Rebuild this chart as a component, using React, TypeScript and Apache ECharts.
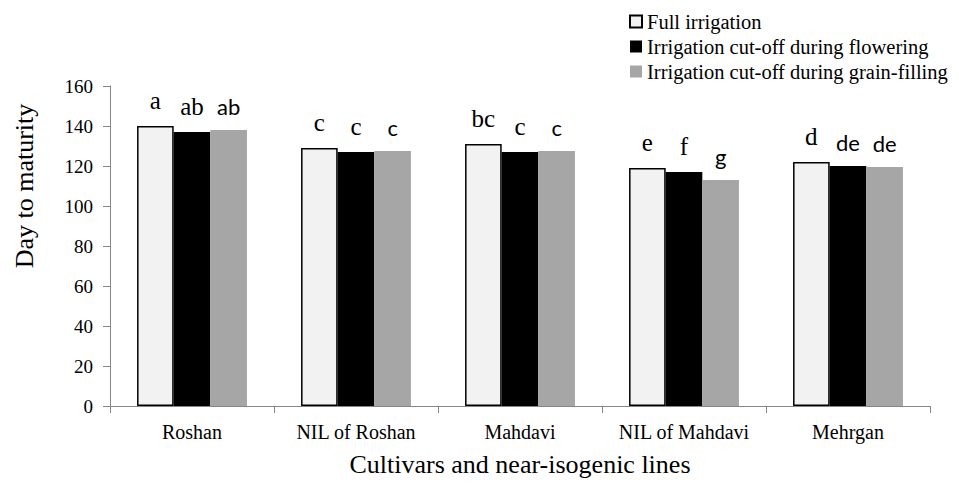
import React, { useEffect, useRef } from "react";
import * as echarts from "echarts";

const categories = ["Roshan", "NIL of Roshan", "Mahdavi", "NIL of Mahdavi", "Mehrgan"];
const seriesNames = [
  "Full irrigation",
  "Irrigation cut-off during flowering",
  "Irrigation cut-off during grain-filling",
];
const fullIrrigation = [140, 129, 131, 119, 122];
const cutoffFlowering = [137, 127, 127, 117, 120];
const cutoffGrainFilling = [138, 127.5, 127.5, 113, 119.5];

const fullLetters = ["a", "c", "bc", "e", "d"];
const floweringLetters = ["ab", "c", "c", "f", "de"];
const grainLetters = ["ab", "c", "c", "g", "de"];
// which letters are set in a sans face (true) vs serif (false)
const fullLetterSans = [false, false, false, false, false];
const floweringLetterSans = [false, false, false, false, true];
const grainLetterSans = [true, true, true, true, true];

const yTicks = { min: 0, max: 160, interval: 20 };

const SERIF = "Liberation Serif";
const SANS = "Lato";

function buildData(values: number[], letters: string[], sans: boolean[]) {
  return values.map((v, i) => ({
    value: v,
    label: {
      formatter: letters[i],
      fontFamily: sans[i] ? SANS : SERIF,
      fontSize: sans[i] ? 22 : 25,
    },
  }));
}

export default function App() {
  const ref = useRef<HTMLDivElement>(null);
  useEffect(() => {
    document.body.style.margin = "0";
    if (!ref.current) return;
    const chart = echarts.init(ref.current, null, { renderer: "svg" });
    const labelBase = {
      show: true,
      position: "top",
      distance: 13,
      color: "#000",
    };
    chart.setOption({
      animation: false,
      backgroundColor: "#fff",
      textStyle: { fontFamily: SERIF },
      grid: { left: 110, right: 29, top: 86, bottom: 80, containLabel: false },
      legend: {
        orient: "vertical",
        left: 629,
        top: 11,
        padding: 0,
        itemWidth: 12,
        itemHeight: 12,
        itemGap: 4,
        icon: "rect",
        textStyle: { fontFamily: SERIF, fontSize: 20.5, color: "#000", lineHeight: 20 },
        data: seriesNames,
      },
      xAxis: {
        type: "category",
        data: categories,
        name: "Cultivars and near-isogenic lines",
        nameLocation: "middle",
        nameGap: 45,
        nameTextStyle: { fontFamily: SERIF, fontSize: 26, color: "#000" },
        axisLine: { show: true, lineStyle: { color: "#868686", width: 1 } },
        axisTick: { show: true, alignWithLabel: false, length: 7, lineStyle: { color: "#868686" } },
        axisLabel: { fontFamily: SERIF, fontSize: 20, color: "#000", margin: 16, interval: 0 },
        splitLine: { show: false },
      },
      yAxis: {
        type: "value",
        min: yTicks.min,
        max: yTicks.max,
        interval: yTicks.interval,
        axisLine: { show: true, lineStyle: { color: "#868686", width: 1 } },
        axisTick: { show: true, length: 7, lineStyle: { color: "#868686" } },
        axisLabel: { fontFamily: SERIF, fontSize: 19, color: "#000", margin: 17 },
        splitLine: { show: false },
      },
      graphic: [
        {
          type: "text",
          x: 24,
          y: 186,
          rotation: Math.PI / 2,
          style: {
            text: "Day to maturity",
            fontFamily: SERIF,
            fontSize: 26,
            fill: "#000",
            align: "center",
            verticalAlign: "middle",
          },
        },
      ],
      series: [
        {
          name: seriesNames[0],
          type: "bar",
          barGap: "0%",
          barCategoryGap: "33%",
          itemStyle: { color: "#f2f2f2", borderColor: "#000", borderWidth: 1.5 },
          label: labelBase,
          data: buildData(fullIrrigation, fullLetters, fullLetterSans),
        },
        {
          name: seriesNames[1],
          type: "bar",
          barGap: "0%",
          barCategoryGap: "33%",
          itemStyle: { color: "#000" },
          label: labelBase,
          data: buildData(cutoffFlowering, floweringLetters, floweringLetterSans),
        },
        {
          name: seriesNames[2],
          type: "bar",
          barGap: "0%",
          barCategoryGap: "33%",
          itemStyle: { color: "#a6a6a6" },
          label: labelBase,
          data: buildData(cutoffGrainFilling, grainLetters, grainLetterSans),
        },
      ],
    });
    return () => chart.dispose();
  }, []);
  return <div ref={ref} style={{ width: 959, height: 486 }} />;
}
